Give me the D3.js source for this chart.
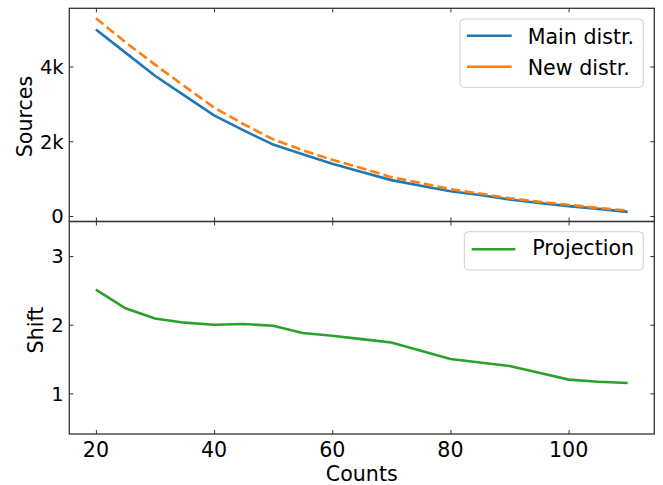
<!DOCTYPE html>
<html>
<head>
<meta charset="utf-8">
<script src="https://cdn.jsdelivr.net/npm/d3@7"></script>
<style>
  html, body { margin: 0; padding: 0; background: #fff; }
  svg { display: block; }
  text { font-family: "DejaVu Sans", sans-serif; fill: #000; }
</style>
</head>
<body>
<svg id="chart" width="663" height="485"></svg>
<script>
const counts = [20, 25, 30, 35, 40, 45, 50, 55, 60, 65, 70, 75, 80, 85, 90, 95, 100, 105, 110];
const mainDistr = [4990, 4370, 3750, 3220, 2690, 2290, 1910, 1650, 1395, 1180, 960, 810, 660, 560, 440, 350, 265, 190, 110];
const newDistr  = [5290, 4650, 4050, 3470, 2900, 2460, 2050, 1760, 1505, 1280, 1040, 880, 720, 600, 475, 380, 300, 215, 145];
const projection = [2.51, 2.24, 2.09, 2.03, 2.00, 2.01, 1.985, 1.88, 1.84, 1.79, 1.74, 1.62, 1.50, 1.45, 1.40, 1.30, 1.20, 1.17, 1.15];
const xTicks = [20, 40, 60, 80, 100];
const topYTicks = [0, 2000, 4000];
const topYTickLabels = ["0", "2k", "4k"];
const botYTicks = [1, 2, 3];
const seriesNames = ["Main distr.", "New distr.", "Projection"];
const colors = ["#1f77b4", "#ff7f0e", "#2ca02c"];

const L = 69.3, R = 654.3, T = 8.3, M = 221.5, B = 434;
const FS = 20.6;
const FSY = 19.6;
const TL = 4;

const svg = d3.select("#chart");

const x = d3.scaleLinear().domain([15.5, 114.5]).range([L, R]);
const yTop = d3.scaleLinear().domain([-147, 5556]).range([M, T]);
const yBot = d3.scaleLinear().domain([0.408, 3.504]).range([B, M]);

function panel(yScale, y0, y1, yTicks, yFmt) {
  const g = svg.append("g");
  const axL = d3.axisLeft(yScale).tickValues(yTicks).tickFormat(yFmt).tickSize(-TL).tickPadding(5.6);
  const gl = g.append("g").attr("transform", `translate(${L},0)`).call(axL);
  const axR = d3.axisRight(yScale).tickValues(yTicks).tickFormat("").tickSize(-TL);
  const gr = g.append("g").attr("transform", `translate(${R},0)`).call(axR);
  const axT = d3.axisTop(x).tickValues(xTicks).tickFormat("").tickSize(-TL);
  const gt = g.append("g").attr("transform", `translate(0,${y1})`).call(axT);
  const axB = d3.axisBottom(x).tickValues(xTicks).tickFormat("").tickSize(-TL);
  const gb = g.append("g").attr("transform", `translate(0,${y0})`).call(axB);
  [gl, gr, gt, gb].forEach(a => {
    a.select(".domain").remove();
    a.selectAll(".tick line").attr("stroke", "#333").attr("stroke-width", 1);
  });
  gl.selectAll(".tick text").style("font-size", FSY + "px").style("font-family", "DejaVu Sans").attr("fill", "#000").attr("dy", "0.35em");
  return g;
}

const gTop = panel(yTop, M, T, topYTicks, (d, i) => topYTickLabels[i]);
const gBot = panel(yBot, B, M, botYTicks, d => String(d));

svg.append("g").selectAll("text").data(xTicks).join("text")
  .attr("x", d => x(d)).attr("y", 457)
  .attr("text-anchor", "middle").style("font-size", FS + "px").text(d => d);

const lineTop = d3.line().x((d, i) => x(counts[i])).y(d => yTop(d));
const lineBot = d3.line().x((d, i) => x(counts[i])).y(d => yBot(d));

svg.append("path").datum(mainDistr).attr("d", lineTop)
  .attr("fill", "none").attr("stroke", colors[0]).attr("stroke-width", 2.6);
svg.append("path").datum(newDistr).attr("d", lineTop)
  .attr("fill", "none").attr("stroke", colors[1]).attr("stroke-width", 2.6)
  .attr("stroke-dasharray", "9.6,4.2");
svg.append("path").datum(projection).attr("d", lineBot)
  .attr("fill", "none").attr("stroke", colors[2]).attr("stroke-width", 2.6);

svg.append("rect").attr("x", L).attr("y", T).attr("width", R - L).attr("height", M - T)
  .attr("fill", "none").attr("stroke", "#333").attr("stroke-width", 1.3);
svg.append("rect").attr("x", L).attr("y", M).attr("width", R - L).attr("height", B - M)
  .attr("fill", "none").attr("stroke", "#333").attr("stroke-width", 1.3);

svg.append("text").attr("x", (L + R) / 2).attr("y", 480.5).attr("text-anchor", "middle")
  .style("font-size", FS + "px").text("Counts");
svg.append("text").attr("transform", `translate(31.5,116.5) rotate(-90)`).attr("text-anchor", "middle")
  .style("font-size", FS + "px").text("Sources");
svg.append("text").attr("transform", `translate(43.3,330) rotate(-90)`).attr("text-anchor", "middle")
  .style("font-size", FS + "px").text("Shift");

function legend(x0, y0, w, h, items) {
  const g = svg.append("g");
  g.append("rect").attr("x", x0).attr("y", y0).attr("width", w).attr("height", h)
    .attr("rx", 4).attr("fill", "#fff").attr("fill-opacity", 0.8)
    .attr("stroke", "#d0d0d0").attr("stroke-width", 1);
  items.forEach(it => {
    g.append("line").attr("x1", it.lx1).attr("x2", it.lx2).attr("y1", it.ly).attr("y2", it.ly)
      .attr("stroke", it.color).attr("stroke-width", 2.6)
      .attr("stroke-dasharray", it.dash || null);
    g.append("text").attr("x", it.tx).attr("y", it.ty).style("font-size", FS + "px").text(it.name);
  });
}
legend(460, 19, 183.3, 68.3, [
  { name: seriesNames[0], color: colors[0], lx1: 467, lx2: 511.7, ly: 35.7, tx: 527.7, ty: 43.5 },
  { name: seriesNames[1], color: colors[1], lx1: 467, lx2: 511.7, ly: 66.7, tx: 527.7, ty: 75 },
]);
legend(464.3, 231.7, 179, 38.3, [
  { name: seriesNames[2], color: colors[2], lx1: 471.7, lx2: 515.3, ly: 249.3, tx: 532.3, ty: 255 }
]);
</script>
</body>
</html>
